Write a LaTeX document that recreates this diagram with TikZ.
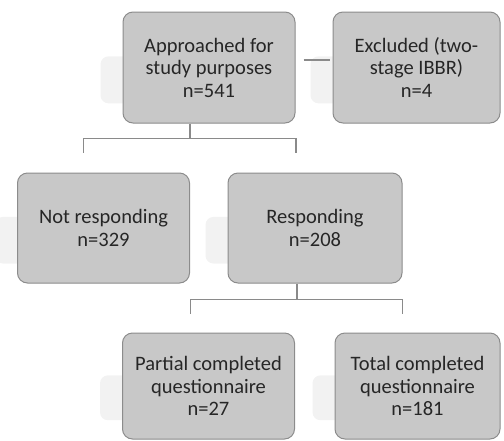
\documentclass[tikz,border=0pt]{standalone}
\usepackage{fontspec}
\setmainfont{Carlito}
\usetikzlibrary{calc,backgrounds}
\definecolor{boxfill}{HTML}{C8C8C8}
\definecolor{boxline}{HTML}{8C8C8C}
\definecolor{linkline}{HTML}{8A8A8A}
\definecolor{glowfill}{HTML}{F2F2F2}
\tikzset{
  box/.style={draw=boxline, fill=boxfill, rounded corners=10pt, line width=1pt,
    align=center, text=black!85, font=\fontsize{20.5}{22.5}\selectfont, inner sep=0pt,
    minimum width=172pt, minimum height=110pt},
  link/.style={draw=linkline, line width=1.2pt},
  glow/.style={fill=glowfill, rounded corners=8pt}
}
\begin{document}
\begin{tikzpicture}[x=1pt,y=-1pt]
\useasboundingbox (0,0) rectangle (504,440);
% boxes
\node[box, minimum height=111pt] (approached) at (209,67.5) {Approached for\\study purposes\\n=541};
\node[box, minimum width=167pt, minimum height=111pt] (excluded) at (416.5,67.5) {Excluded (two-\\stage IBBR)\\n=4};
\node[box] (notresp) at (103.5,228) {Not responding\\n=329};
\node[box, minimum width=174pt] (resp) at (315,228) {Responding\\n=208};
\node[box, minimum height=106pt] (partial) at (208.5,386) {Partial completed\\questionnaire\\n=27};
\node[box, minimum width=165pt, minimum height=106pt] (total) at (417.5,386) {Total completed\\questionnaire\\n=181};
% faint glow behind the boxes
\begin{scope}[on background layer]
  \foreach \n in {approached,excluded,notresp,resp,partial,total}
    \fill[glow] ($(\n.north west)!0.4!(\n.south west)+(-22,0)$) rectangle ($(\n.north east)!0.82!(\n.south east)+(-30,0)$);
\end{scope}
% links
\draw[link] ([xshift=8pt,yshift=7.5pt]approached.east) -- ([xshift=-3pt,yshift=7.5pt]excluded.west);
\draw[link] ([xshift=-19pt]approached.south) -- ++(0,15) coordinate (fork1);
\draw[link] ([xshift=-20pt,yshift=20pt]notresp.north) |- (fork1) -| ([xshift=-19pt,yshift=20pt]resp.north);
\draw[link] ([xshift=-18pt]resp.south) -- ++(0,16) coordinate (fork2);
\draw[link] ([xshift=-18pt,yshift=19pt]partial.north) |- (fork2) -| ([xshift=-15pt,yshift=19pt]total.north);
\end{tikzpicture}
\end{document}
